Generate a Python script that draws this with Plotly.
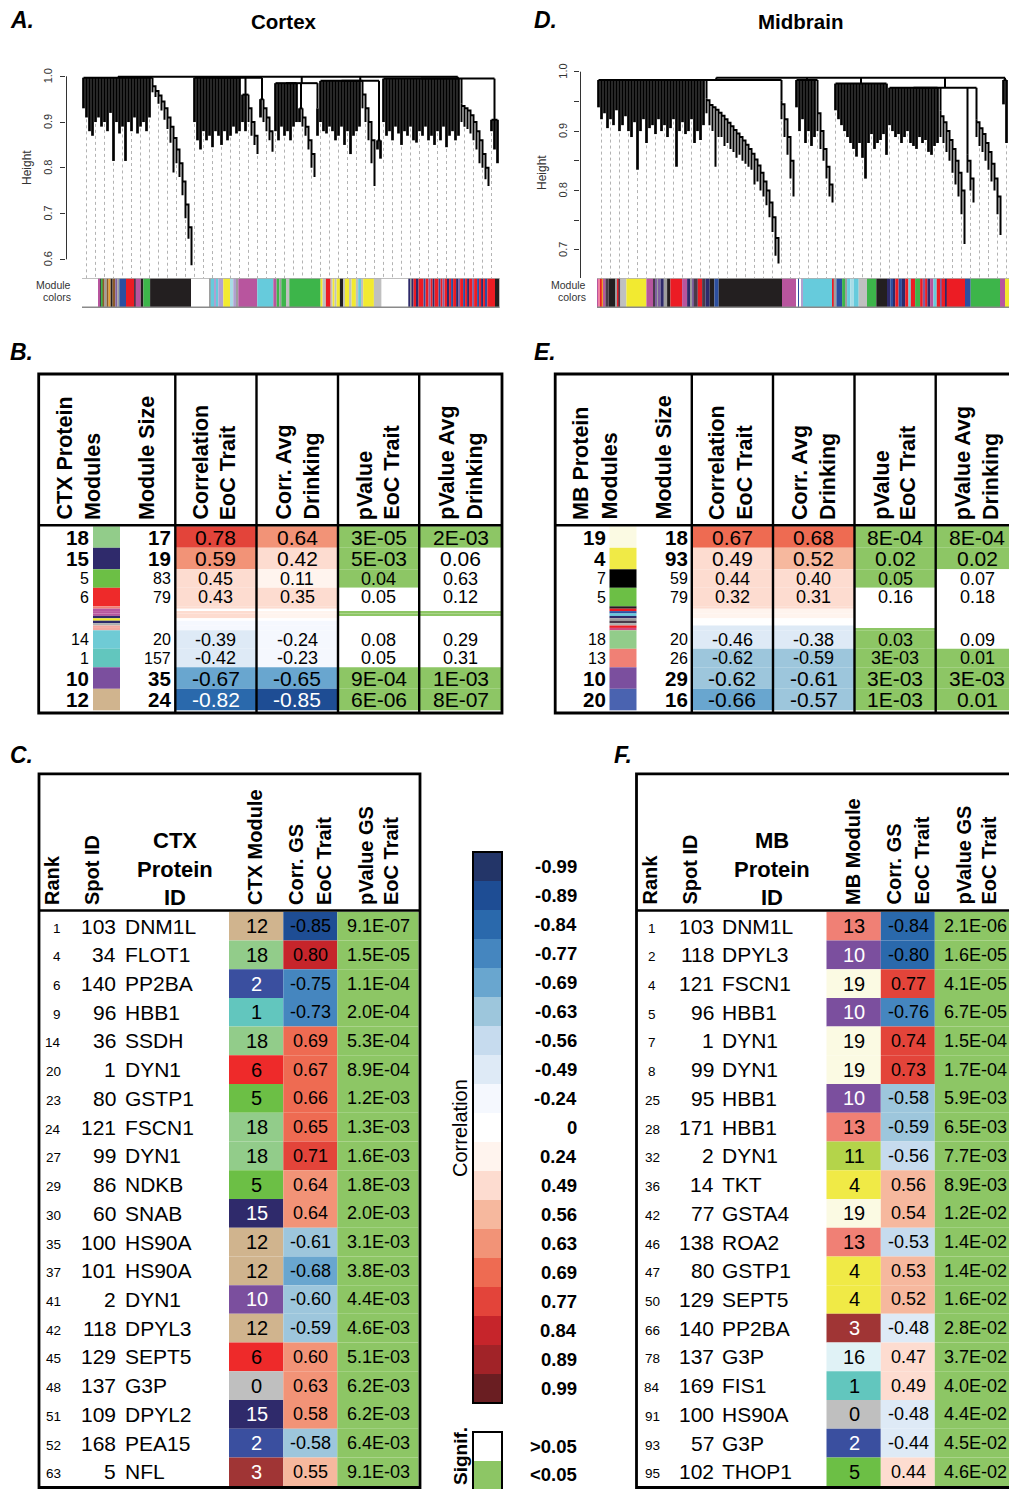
import plotly.graph_objects as go

W, H = 1009, 1489
FONT = "Liberation Sans, Arial, Helvetica, sans-serif"

# ======================= DATA =======================
# ---- correlation colour key ----
CORR_LEVELS = ["-0.99", "-0.89", "-0.84", "-0.77", "-0.69", "-0.63", "-0.56", "-0.49", "-0.24", "0",
               "0.24", "0.49", "0.56", "0.63", "0.69", "0.77", "0.84", "0.89", "0.99"]
CORR_LEVEL_COLORS = ["#233568", "#1e4d94", "#2a69ac", "#4586bf", "#69a6cf", "#9dc6dc", "#c6dbee", "#deeaf6",
                     "#f5f8fe", "#ffffff", "#fff4ee", "#fddcd0", "#f6b89e", "#f29377", "#ee6b52", "#e3443a",
                     "#c6252b", "#a12328", "#6a1e22"]
CORR_BIN_EDGES = [0.24, 0.49, 0.56, 0.645, 0.69, 0.785, 0.84, 0.89, 0.99]
SIGNIF_LEVELS = [">0.05", "<0.05"]
SIGNIF_COLORS = ["#ffffff", "#8dc665"]

# ---- module colours (WGCNA numbering) ----
MODULE_COLORS = {0: "#bfbfbf", 1: "#62c6be", 2: "#3a4f9f", 3: "#a03535", 4: "#f0ea46", 5: "#6cbf45",
                 6: "#ee2a2a", 7: "#000000", 10: "#7b4f9e", 11: "#b4d44a", 12: "#d0b48e", 13: "#f08075",
                 14: "#6fcbd5", 15: "#2f2a6b", 16: "#e0f2f6", 18: "#92cc8a", 19: "#fbfae3", 20: "#4a63b0"}
DARK_MODULES = [2, 3, 7, 10, 15, 20]

# ---- A / D dendrograms: (cluster merge height, [(segment merge height, leaf ends, chain (level, leaf end))]) ----
CTX_HEIGHT_TICKS = [0.6, 0.7, 0.8, 0.9, 1.0]
CTX_HEIGHT_LABELS = ["0.6", "0.7", "0.8", "0.9", "1.0"]
MB_HEIGHT_TICKS = [0.7, 0.75, 0.8, 0.85, 0.9, 0.95, 1.0]
MB_HEIGHT_LABELS = ["0.7", "", "0.8", "", "0.9", "", "1.0"]

CTX_TREE_TOP = 0.999
CTX_TREE = [
    (0.997, [(0.997,
              [0.93, 0.91, 0.88, 0.87, 0.90, 0.91, 0.89, 0.90, 0.88, 0.92, 0.815, 0.90, 0.875, 0.89, 0.815,
               0.90, 0.88, 0.91, 0.875, 0.89, 0.90, 0.88, 0.91],
              [(0.978, 0.965), (0.968, 0.955), (0.958, 0.94), (0.945, 0.925), (0.93, 0.905), (0.91, 0.885),
               (0.89, 0.855), (0.865, 0.79), (0.84, 0.81), (0.81, 0.78), (0.77, 0.74), (0.72, 0.69),
               (0.67, 0.645), (0.61, 0.587)])]),
    (0.997, [(0.997, [0.90, 0.86, 0.84, 0.88, 0.86, 0.87, 0.845, 0.88, 0.87, 0.85, 0.88, 0.86, 0.87, 0.89,
                      0.875, 0.88], []),
             (0.96, [0.90, 0.88], [(0.93, 0.90), (0.90, 0.87), (0.87, 0.85), (0.845, 0.83)]),
             (0.95, [0.91], [(0.93, 0.90), (0.91, 0.88), (0.88, 0.86), (0.855, 0.835)])]),
    (0.985, [(0.985, [0.88, 0.86, 0.89, 0.87, 0.88, 0.86, 0.89, 0.90], []),
             (0.93, [0.90], [(0.91, 0.89), (0.89, 0.87), (0.86, 0.84), (0.83, 0.80), (0.80, 0.78)]),
             (0.93, [0.87], [])]),
    (0.99, [(0.99, [0.90, 0.88, 0.875, 0.89, 0.88, 0.86, 0.87, 0.89, 0.85, 0.88, 0.83, 0.87, 0.88, 0.89],
             [(0.96, 0.93), (0.93, 0.90), (0.90, 0.86), (0.86, 0.81), (0.82, 0.76)]),
            (0.86, [0.84, 0.82], [])]),
    (0.995, [(0.995, [0.90, 0.87, 0.88, 0.86, 0.89, 0.875, 0.85, 0.88, 0.87, 0.89, 0.86, 0.855, 0.88, 0.87,
                      0.89, 0.86, 0.87, 0.85, 0.88, 0.86, 0.89, 0.845, 0.87, 0.88, 0.86, 0.87], []),
             (0.94, [], [(0.935, 0.90), (0.93, 0.89), (0.925, 0.885), (0.915, 0.875), (0.90, 0.86),
                         (0.88, 0.84), (0.86, 0.81), (0.83, 0.80), (0.80, 0.775), (0.775, 0.76)]),
             (0.905, [0.88, 0.84, 0.81], [])]),
]

MB_TREE_TOP = 0.99
MB_TREE = [
    (0.986, [(0.986, [0.94, 0.92, 0.93, 0.905, 0.92, 0.91, 0.935, 0.90, 0.91, 0.925, 0.90, 0.89, 0.915, 0.835,
                      0.90, 0.92, 0.88, 0.905, 0.91, 0.895, 0.92, 0.90, 0.91, 0.89, 0.905, 0.92, 0.84, 0.90,
                      0.915, 0.895, 0.90, 0.92, 0.88, 0.90, 0.885, 0.91], []),
             (0.955, [], [(0.952, 0.93), (0.944, 0.91), (0.94, 0.90), (0.936, 0.84), (0.931, 0.89),
                          (0.926, 0.89), (0.92, 0.875), (0.914, 0.88), (0.908, 0.87), (0.902, 0.865),
                          (0.896, 0.855), (0.89, 0.86), (0.884, 0.85), (0.877, 0.845), (0.87, 0.84),
                          (0.862, 0.835), (0.852, 0.81), (0.842, 0.815), (0.83, 0.80), (0.815, 0.79),
                          (0.80, 0.775), (0.78, 0.755), (0.755, 0.73), (0.72, 0.69), (0.69, 0.677)]),
             (0.952, [], [(0.945, 0.92), (0.92, 0.89), (0.89, 0.86), (0.85, 0.82), (0.815, 0.79)])]),
    (0.986, [(0.986, [0.94, 0.90, 0.92, 0.88, 0.90, 0.875, 0.89],
              [(0.93, 0.90), (0.90, 0.87), (0.87, 0.85), (0.84, 0.82), (0.81, 0.79), (0.79, 0.78)])]),
    (0.98, [(0.98, [0.935, 0.92, 0.91, 0.90, 0.89, 0.88, 0.87, 0.857, 0.88, 0.855, 0.82, 0.88, 0.895, 0.87,
                    0.88, 0.885, 0.895, 0.86], [])]),
    (0.973, [(0.973, [0.91, 0.90, 0.89, 0.895, 0.88, 0.89, 0.90, 0.88, 0.875, 0.87, 0.89, 0.88, 0.885, 0.865,
                      0.86, 0.875, 0.88], []),
             (0.935, [], [(0.925, 0.89), (0.915, 0.88), (0.90, 0.865), (0.885, 0.85), (0.87, 0.83),
                          (0.85, 0.81), (0.83, 0.79), (0.80, 0.76), (0.76, 0.71)]),
             (0.86, [], [(0.85, 0.83), (0.82, 0.80), (0.795, 0.78)]),
             (0.92, [], [(0.915, 0.89), (0.905, 0.875), (0.895, 0.865), (0.88, 0.85), (0.865, 0.835),
                         (0.845, 0.815), (0.82, 0.80), (0.79, 0.76), (0.75, 0.725)])]),
    (0.986, [(0.986, [0.945, 0.88], [])]),
]

# ---- module colour bars under the dendrograms: (colour, run length) ----
RUN_COLORS = {"w": "#ffffff", "k": "#231f20", "r": "#ec1c24", "b": "#2c4fa0", "g": "#3db54a", "y": "#f2ea30",
              "m": "#b8559e", "c": "#66cbdc", "s": "#c0c0c0", "gy": "#9e9e9e", "n": "#2e2a6a", "p": "#8060a0",
              "o": "#e8a030", "br": "#8b5a2b", "pk": "#f080a0", "li": "#b0a0d0", "lc": "#a8dce6",
              "dk": "#4a3a4a"}
CTX_COLOR_RUNS = [
    ("w", 16.3), ("m", 1.7), ("dk", 1.3), ("g", 1.3), ("br", 2), ("gy", 2), ("br", 2), ("o", 2), ("k", 2),
    ("br", 2.7), ("p", 2), ("gy", 2), ("b", 6.7), ("r", 8), ("dk", 1.7), ("m", 5), ("k", 2.7), ("g", 6.7),
    ("k", 41), ("w", 18.3), ("gy", 1.3), ("c", 3.3), ("li", 2), ("c", 2.3), ("li", 5), ("y", 6.7), ("lc", 3.3),
    ("li", 3.3), ("gy", 1.7), ("m", 19), ("c", 16), ("m", 3.3), ("g", 2.7), ("gy", 2), ("g", 4.7), ("s", 3.3),
    ("g", 31.3), ("y", 2), ("s", 3.3), ("r", 4.7), ("s", 2), ("y", 2), ("s", 2), ("y", 3.3), ("k", 3.3),
    ("s", 1.7), ("y", 5), ("s", 1.7), ("y", 4.3), ("s", 2.3), ("c", 3.3), ("s", 1.7), ("y", 10.7), ("s", 7.7),
    ("w", 26.7), ("n", 2), ("gy", 1.3), ("n", 2), ("r", 3.3), ("n", 1.7), ("r", 5), ("b", 2), ("r", 3),
    ("p", 2), ("r", 2), ("n", 2), ("r", 4), ("b", 2), ("r", 2), ("p", 2), ("r", 3), ("n", 1.5), ("r", 2),
    ("b", 2), ("r", 3), ("n", 2), ("p", 2), ("r", 3), ("b", 2), ("r", 2), ("n", 2), ("r", 3), ("p", 2),
    ("r", 3), ("b", 2), ("r", 2), ("n", 2), ("r", 2.5), ("b", 1.7), ("r", 7.7), ("k", 4.3)]
MB_COLOR_RUNS = [
    ("m", 1.7), ("pk", 1.7), ("r", 1.3), ("o", 2), ("m", 1.7), ("dk", 3.3), ("k", 6.7), ("gy", 1.7), ("r", 1.3),
    ("dk", 2), ("s", 6), ("y", 20), ("m", 7.3), ("dk", 1.7), ("p", 1.7), ("gy", 1.7), ("p", 1.7), ("n", 3.3),
    ("gy", 3.3), ("k", 3.3), ("r", 11.7), ("m", 5), ("n", 3.3), ("gy", 1.7), ("p", 1.7), ("dk", 4), ("r", 4.3),
    ("dk", 3.3), ("n", 4.3), ("k", 4.7), ("b", 4.3), ("k", 63.3), ("m", 14.3), ("w", 1.7), ("b", 1.3),
    ("w", 1.7), ("li", 2), ("c", 29), ("r", 1.7), ("gy", 2.7), ("b", 5.7), ("g", 3.3), ("gy", 1.7), ("c", 3.3),
    ("lc", 3.3), ("c", 5), ("s", 8.3), ("g", 9.3), ("k", 10.7), ("n", 3.3), ("b", 3.3), ("n", 1.7), ("r", 3.3),
    ("b", 3.3), ("n", 3.3), ("r", 3.3), ("c", 2.3), ("r", 4.3), ("g", 5), ("r", 2.7), ("p", 2.3), ("r", 2.3),
    ("n", 2.7), ("m", 3.3), ("c", 3.3), ("r", 3.3), ("p", 1.7), ("r", 3.3), ("n", 1.7), ("r", 18.3), ("b", 5.7),
    ("g", 29.3), ("m", 5), ("y", 5)]

# ---- B: cortex module / trait table ----
CTX_MOD_ID = [18, 15, 5, 6, 14, 1, 10, 12]
CTX_MOD_SIZE = [17, 19, 83, 79, 20, 157, 35, 24]
CTX_MOD_BOLD = [True, True, False, False, False, False, True, True]
CTX_MOD_CORR_EOC = [0.78, 0.59, 0.45, 0.43, -0.39, -0.42, -0.67, -0.82]
CTX_MOD_CORR_AVG = [0.64, 0.42, 0.11, 0.35, -0.24, -0.23, -0.65, -0.85]
CTX_MOD_P_EOC = [3e-5, 5e-3, 0.04, 0.052, 0.08, 0.051, 9e-4, 6e-6]
CTX_MOD_P_AVG = [2e-3, 0.06, 0.63, 0.12, 0.29, 0.31, 1e-3, 8e-7]
CTX_MINOR_COLORS = ["#f08075", "#b8559e", "#b8559e", "#b8559e", "#2e2a6a", "#f2ea30", "#2e2a6a", "#b0b0b0",
                    "#f4a8a0", "#f4a8a0"]
CTX_MINOR_CORR_EOC = [0.30, 0.0, 0.30, 0.30, 0.26, 0.0, -0.10, -0.10, -0.10, -0.10]
CTX_MINOR_CORR_AVG = [0.30, 0.0, 0.15, 0.15, 0.15, 0.0, -0.10, -0.10, -0.10, -0.10]
CTX_MINOR_P_EOC = [0.2, 0.5, 0.03, 0.03, 0.2, 0.5, 0.6, 0.7, 0.5, 0.4]
CTX_MINOR_P_AVG = [0.3, 0.6, 0.04, 0.04, 0.3, 0.7, 0.8, 0.6, 0.6, 0.5]

# ---- E: midbrain module / trait table ----
MB_MOD_ID = [19, 4, 7, 5, 18, 13, 10, 20]
MB_MOD_SIZE = [18, 93, 59, 79, 20, 26, 29, 16]
MB_MOD_BOLD = [True, True, False, False, False, False, True, True]
MB_MOD_CORR_EOC = [0.67, 0.49, 0.44, 0.32, -0.46, -0.62, -0.62, -0.66]
MB_MOD_CORR_AVG = [0.68, 0.52, 0.40, 0.31, -0.38, -0.59, -0.61, -0.57]
MB_MOD_P_EOC = [8e-4, 0.02, 0.0498, 0.16, 0.03, 3e-3, 3e-3, 1e-3]
MB_MOD_P_AVG = [8e-4, 0.02, 0.07, 0.18, 0.09, 0.011, 3e-3, 0.011]
MB_MINOR_COLORS = ["#231f20", "#ec1c24", "#2c4fa0", "#66cbdc", "#2e2a6a", "#9e9e9e", "#4a3a4a", "#b0b0b0",
                   "#ec1c24", "#d04a80"]
MB_MINOR_CORR_EOC = [0.30, 0.10, 0.10, 0.10, 0.10, 0.0, 0.0, 0.0, -0.30, -0.30]
MB_MINOR_CORR_AVG = [0.30, 0.10, 0.10, 0.10, 0.10, 0.0, 0.0, 0.0, -0.30, -0.30]
MB_MINOR_P_EOC = [0.3, 0.3, 0.3, 0.3, 0.3, 0.3, 0.3, 0.3, 0.3, 0.03]
MB_MINOR_P_AVG = [0.3, 0.3, 0.3, 0.3, 0.3, 0.3, 0.3, 0.3, 0.3, 0.3]

# ---- C: cortex gene significance ----
CTX_GS_RANK = [1, 4, 6, 9, 14, 20, 23, 24, 27, 29, 30, 35, 37, 41, 42, 45, 48, 51, 52, 63]
CTX_GS_SPOT = [103, 34, 140, 96, 36, 1, 80, 121, 99, 86, 60, 100, 101, 2, 118, 129, 137, 109, 168, 5]
CTX_GS_PROTEIN = ["DNM1L", "FLOT1", "PP2BA", "HBB1", "SSDH", "DYN1", "GSTP1", "FSCN1", "DYN1", "NDKB",
                  "SNAB", "HS90A", "HS90A", "DYN1", "DPYL3", "SEPT5", "G3P", "DPYL2", "PEA15", "NFL"]
CTX_GS_MODULE = [12, 18, 2, 1, 18, 6, 5, 18, 18, 5, 15, 12, 12, 10, 12, 6, 0, 15, 2, 3]
CTX_GS_CORR = [-0.85, 0.80, -0.75, -0.73, 0.69, 0.67, 0.66, 0.65, 0.71, 0.64, 0.64, -0.61, -0.68, -0.60,
               -0.59, 0.60, 0.63, 0.58, -0.58, 0.55]
CTX_GS_P = [9.1e-7, 1.5e-5, 1.1e-4, 2.0e-4, 5.3e-4, 8.9e-4, 1.2e-3, 1.3e-3, 1.6e-3, 1.8e-3, 2.0e-3, 3.1e-3,
            3.8e-3, 4.4e-3, 4.6e-3, 5.1e-3, 6.2e-3, 6.2e-3, 6.4e-3, 9.1e-3]

# ---- F: midbrain gene significance ----
MB_GS_RANK = [1, 2, 4, 5, 7, 8, 25, 28, 32, 36, 42, 46, 47, 50, 66, 78, 84, 91, 93, 95]
MB_GS_SPOT = [103, 118, 121, 96, 1, 99, 95, 171, 2, 14, 77, 138, 80, 129, 140, 137, 169, 100, 57, 102]
MB_GS_PROTEIN = ["DNM1L", "DPYL3", "FSCN1", "HBB1", "DYN1", "DYN1", "HBB1", "HBB1", "DYN1", "TKT", "GSTA4",
                 "ROA2", "GSTP1", "SEPT5", "PP2BA", "G3P", "FIS1", "HS90A", "G3P", "THOP1"]
MB_GS_MODULE = [13, 10, 19, 10, 19, 19, 10, 13, 11, 4, 19, 13, 4, 4, 3, 16, 1, 0, 2, 5]
MB_GS_CORR = [-0.84, -0.80, 0.77, -0.76, 0.74, 0.73, -0.58, -0.59, -0.56, 0.56, 0.54, -0.53, 0.53, 0.52,
              -0.48, 0.47, 0.49, -0.48, -0.44, 0.44]
MB_GS_P = [2.1e-6, 1.6e-5, 4.1e-5, 6.7e-5, 1.5e-4, 1.7e-4, 5.9e-3, 6.5e-3, 7.7e-3, 8.9e-3, 1.2e-2, 1.4e-2,
           1.4e-2, 1.6e-2, 2.8e-2, 3.7e-2, 4.0e-2, 4.4e-2, 4.5e-2, 4.6e-2]


# ======================= HELPERS =======================
def dom_x(a, b):
    return [a / W, b / W]


def dom_y(t, b):
    return [1 - b / H, 1 - t / H]


def corr_color(v):
    if v == 0:
        return CORR_LEVEL_COLORS[9]
    a = abs(v)
    j = len(CORR_BIN_EDGES) - 1
    for k, e in enumerate(CORR_BIN_EDGES):
        if a <= e + 1e-9:
            j = k
            break
    return CORR_LEVEL_COLORS[10 + j] if v > 0 else CORR_LEVEL_COLORS[8 - j]


def corr_dark(v):
    return abs(v) > 0.785


def sig_color(p):
    return SIGNIF_COLORS[1] if p < 0.05 else SIGNIF_COLORS[0]


def fmt_p_module(p):
    return f"{p:.0E}" if p < 0.01 else f"{p:.2f}"


def fmt_p_gene(p):
    return f"{p:.1E}"


ANN, SH = [], []


def txt(x, y, s, size, xa="center", ya="middle", angle=0, color="black", bold=False, italic=False,
        xref="x5", yref="y5"):
    if bold:
        s = "<b>" + s + "</b>"
    if italic:
        s = "<i>" + s + "</i>"
    ANN.append(dict(x=x, y=y, xref=xref, yref=yref, text=s, showarrow=False, xanchor=xa, yanchor=ya,
                    textangle=angle, borderpad=0, font=dict(family=FONT, size=size, color=color)))


def rect(x0, y0, x1, y1, fill=None, lw=0, lc="black"):
    SH.append(dict(type="rect", xref="x5", yref="y5", x0=x0, y0=y0, x1=x1, y1=y1,
                   fillcolor=fill if fill else "rgba(0,0,0,0)", line=dict(width=lw, color=lc), layer="above"))


def hline(x0, x1, y, lw, lc="black"):
    SH.append(dict(type="line", xref="x5", yref="y5", x0=x0, x1=x1, y0=y, y1=y, line=dict(width=lw, color=lc),
                   layer="above"))


def vline(x, y0, y1, lw, lc="black"):
    SH.append(dict(type="line", xref="x5", yref="y5", x0=x, x1=x, y0=y0, y1=y1, line=dict(width=lw, color=lc),
                   layer="above"))


fig = go.Figure()

# ======================= A / D dendrograms =======================
LEAF = 3.0
CTX_YMIN, CTX_YMAX = 0.55913, 1.01377
MB_YMIN, MB_YMAX = 0.65269, 1.0096


def add_dendro(tree, top, xa, ya, ymin):
    lx, ly, gx, gy, tx, ty = [], [], [], [], [], []
    idx = 0
    ccon = []
    for ctop, segs in tree:
        scon = []
        for stop, dense, chain in segs:
            xs = []
            for b in dense:
                x = idx * LEAF + LEAF / 2
                if idx % 3 == 1:
                    gx += [x, x, None]; gy += [b - 0.004, ymin, None]
                idx += 1
                lx += [x, x, None]; ly += [b, stop, None]
                xs.append(x)
            prev = None
            for lev, b in chain:
                x = idx * LEAF + LEAF / 2
                if idx % 3 == 1:
                    gx += [x, x, None]; gy += [b - 0.004, ymin, None]
                idx += 1
                if prev is None:
                    tx += [x, x, None]; ty += [stop, b, None]
                    xs.append(x)
                else:
                    tx += [prev[0], x, x, None]; ty += [prev[1], prev[1], b, None]
                prev = (x, lev)
            x0, x1 = min(xs), max(xs)
            if x1 > x0:
                tx += [x0, x1, None]; ty += [stop, stop, None]
            scon.append(((x0 + x1) / 2, stop))
        cx0, cx1 = scon[0][0], scon[-1][0]
        for sx, st in scon:
            if st < ctop:
                tx += [sx, sx, None]; ty += [st, ctop, None]
        if cx1 > cx0:
            tx += [cx0, cx1, None]; ty += [ctop, ctop, None]
        ccon.append(((cx0 + cx1) / 2, ctop))
    for cx, ct in ccon:
        tx += [cx, cx, None]; ty += [ct, top, None]
    tx += [ccon[0][0], ccon[-1][0], None]; ty += [top, top, None]
    fig.add_trace(go.Scatter(x=gx, y=gy, mode="lines", line=dict(color="#a0a0a0", width=0.8, dash="dot"),
                             xaxis=xa, yaxis=ya, hoverinfo="skip"))
    fig.add_trace(go.Scatter(x=lx, y=ly, mode="lines", line=dict(color="black", width=2.7),
                             xaxis=xa, yaxis=ya, hoverinfo="skip"))
    fig.add_trace(go.Scatter(x=tx, y=ty, mode="lines", line=dict(color="black", width=2.0),
                             xaxis=xa, yaxis=ya, hoverinfo="skip"))


def add_band(runs, xa, ya, total):
    xs, ws, cs = [], [], []
    pos = 0.0
    for key, w in runs:
        xs.append(pos + w / 2); ws.append(w); cs.append(RUN_COLORS[key])
        pos += w
    fig.add_trace(go.Bar(x=xs, y=[1] * len(xs), width=ws, base=0, marker=dict(color=cs, line=dict(width=0)),
                         xaxis=xa, yaxis=ya, hoverinfo="skip"))
    fig.add_trace(go.Scatter(x=[0, total], y=[0.02, 0.02], mode="lines", line=dict(color="#8a8a8a", width=2),
                             xaxis=xa, yaxis=ya, hoverinfo="skip"))
    fig.add_trace(go.Scatter(x=[0, total], y=[0.99, 0.99], mode="lines", line=dict(color="#b0b0b0", width=1),
                             xaxis=xa, yaxis=ya, hoverinfo="skip"))


add_dendro(CTX_TREE, CTX_TREE_TOP, "x", "y", CTX_YMIN)
add_dendro(MB_TREE, MB_TREE_TOP, "x2", "y2", MB_YMIN)
add_band(CTX_COLOR_RUNS, "x", "y3", sum(w for _, w in CTX_COLOR_RUNS))
add_band(MB_COLOR_RUNS, "x2", "y4", 412)

# axis lines of the height axes
fig.add_trace(go.Scatter(x=[-15.5, -15.5], y=[min(CTX_HEIGHT_TICKS), max(CTX_HEIGHT_TICKS)], mode="lines",
                         line=dict(color="#333", width=1), xaxis="x", yaxis="y", hoverinfo="skip"))
fig.add_trace(go.Scatter(x=[-16.5, -16.5], y=[MB_YMIN, max(MB_HEIGHT_TICKS)], mode="lines",
                         line=dict(color="#333", width=1), xaxis="x2", yaxis="y2", hoverinfo="skip"))

for v, s in zip(CTX_HEIGHT_TICKS, CTX_HEIGHT_LABELS):
    txt(48, v, s, 11, angle=-90, color="#333", yref="y")
for v, s in zip(MB_HEIGHT_TICKS, MB_HEIGHT_LABELS):
    if s:
        txt(563, v, s, 11, angle=-90, color="#333", yref="y2")
txt(27, 168, "Height", 12, angle=-90, color="#333")
txt(542, 173, "Height", 12, angle=-90, color="#333")
txt(72, 285, "Module", 10.5, xa="right", color="#333")
txt(72, 297, "colors", 10.5, xa="right", color="#333")
txt(587, 285, "Module", 10.5, xa="right", color="#333")
txt(587, 297, "colors", 10.5, xa="right", color="#333")

# panel letters / titles
for lx_, ly_, s in [(9, 20, "A."), (9, 352, "B."), (9, 755, "C."), (533, 20, "D."), (533, 352, "E."),
                    (613, 755, "F.")]:
    txt(lx_, ly_, s, 23, xa="left", bold=True, italic=True)
txt(284, 21, "Cortex", 20.5, bold=True)
txt(800, 21, "Midbrain", 20.5, bold=True)


# ======================= B / E module tables =======================
def module_table(x0, head, ids, sizes, bold, ceoc, cavg, peoc, pavg, mcols, mceoc, mcavg, mpeoc, mpavg):
    cols = [c + x0 for c in [175.3, 256.5, 338, 419.2, 502]]
    left, right, top, hbot, bot = 38.7 + x0, 502 + x0, 374, 525.3, 713
    split = next(i for i, v in enumerate(ceoc) if v < 0)
    y = 526.3
    items = []
    for i in range(len(ids)):
        if i == split:
            sh = 24.0 / len(mcols)
            for j in range(len(mcols)):
                items.append(("minor", j, y, y + sh))
                y += sh
        h = 21.5 if bold[i] else 18.5
        items.append(("main", i, y, y + h))
        y += h
    for kind, i, ya, yb in items:
        if kind == "main":
            vals = [ceoc[i], cavg[i]]; ps = [peoc[i], pavg[i]]; sw = MODULE_COLORS[ids[i]]
        else:
            vals = [mceoc[i], mcavg[i]]; ps = [mpeoc[i], mpavg[i]]; sw = mcols[i]
        rect(93 + x0, ya, 120 + x0, yb, fill=sw)
        for k in range(2):
            rect(cols[k], ya, cols[k + 1], yb, fill=corr_color(vals[k]))
            rect(cols[k + 2], ya, cols[k + 3], yb, fill=sig_color(ps[k]))
        if kind == "main":
            yc = (ya + yb) / 2
            fs = 20.5 if bold[i] else 16
            vs = 21 if bold[i] else 18
            txt(90 + x0, yc, str(ids[i]), fs, xa="right", bold=bold[i])
            txt(172 + x0, yc, str(sizes[i]), fs, xa="right", bold=bold[i])
            for k in range(2):
                txt((cols[k] + cols[k + 1]) / 2, yc, f"{vals[k]:.2f}", vs,
                    color="white" if corr_dark(vals[k]) else "black")
                txt((cols[k + 2] + cols[k + 3]) / 2, yc, fmt_p_module(ps[k]), vs)
    # grid
    for c in cols[:-1]:
        vline(c, top, bot, 2.4)
    hline(left, right, hbot, 2.5)
    rect(left, top, right, bot, lw=2.8)
    # header
    hx = [(64, head[0]), (92.5, "Modules"), (147, "Module Size"), (200, "Correlation"), (228.3, "EoC Trait"),
          (283, "Corr. Avg"), (311, "Drinking"), (364.7, "pValue"), (391.7, "EoC Trait"),
          (446.7, "pValue Avg"), (474, "Drinking")]
    for hxx, s in hx:
        txt(hxx + x0, 521, s, 21.5, ya="bottom", angle=-90, bold=True)


module_table(0, ["CTX Protein"], CTX_MOD_ID, CTX_MOD_SIZE, CTX_MOD_BOLD, CTX_MOD_CORR_EOC, CTX_MOD_CORR_AVG,
             CTX_MOD_P_EOC, CTX_MOD_P_AVG, CTX_MINOR_COLORS, CTX_MINOR_CORR_EOC, CTX_MINOR_CORR_AVG,
             CTX_MINOR_P_EOC, CTX_MINOR_P_AVG)
module_table(516.5, ["MB Protein"], MB_MOD_ID, MB_MOD_SIZE, MB_MOD_BOLD, MB_MOD_CORR_EOC, MB_MOD_CORR_AVG,
             MB_MOD_P_EOC, MB_MOD_P_AVG, MB_MINOR_COLORS, MB_MINOR_CORR_EOC, MB_MINOR_CORR_AVG,
             MB_MINOR_P_EOC, MB_MINOR_P_AVG)


# ======================= C / F gene tables =======================
def gene_table(x0, region, ranks, spots, prots, mods, corr, pvals, rank_right):
    left, right, top, hbot, bot = 39 + x0, 420 + x0, 773.8, 910.5, 1487.5
    rt, rh = 911.7, (1486.2 - 911.7) / len(ranks)
    cm, cc, cp = (229 + x0, 283.3 + x0), (283.3 + x0, 337.3 + x0), (337.3 + x0, 418.5 + x0)
    for i in range(len(ranks)):
        ya, yb = rt + i * rh, rt + (i + 1) * rh
        yc = (ya + yb) / 2
        rect(cm[0], ya, cm[1], yb, fill=MODULE_COLORS[mods[i]])
        rect(cc[0], ya, cc[1], yb, fill=corr_color(corr[i]))
        rect(cp[0], ya, cp[1], yb, fill=sig_color(pvals[i]))
        if rank_right:
            txt(62 + x0, yc + 2, str(ranks[i]), 13.5, xa="right")
        else:
            txt(54.5 + x0, yc + 2, str(ranks[i]), 13.5)
        txt(117 + x0, yc, str(spots[i]), 21, xa="right")
        txt(123.5 + x0, yc, prots[i], 21, xa="left")
        txt(256.5 + x0, yc, str(mods[i]), 20, color="white" if mods[i] in DARK_MODULES else "black")
        txt(310.5 + x0, yc, f"{corr[i]:.2f}", 18)
        txt(378.3 + x0, yc, fmt_p_gene(pvals[i]), 18)
    hline(left, right, hbot, 2.5)
    rect(left, top, right, bot, lw=2.8)
    for hxx, s in [(52, "Rank"), (92, "Spot ID"), (255, region + " Module"), (295.5, "Corr. GS"),
                   (324, "EoC Trait"), (365.5, "pValue GS"), (391, "EoC Trait")]:
        txt(hxx + x0, 906, s, 20, ya="bottom", angle=-90, bold=True)
    for yy, s in [(840, region), (869, "Protein"), (897, "ID")]:
        txt(174.5 + x0, yy, s, 22, bold=True)


gene_table(0, "CTX", CTX_GS_RANK, CTX_GS_SPOT, CTX_GS_PROTEIN, CTX_GS_MODULE, CTX_GS_CORR, CTX_GS_P, True)
gene_table(597.5, "MB", MB_GS_RANK, MB_GS_SPOT, MB_GS_PROTEIN, MB_GS_MODULE, MB_GS_CORR, MB_GS_P, False)

# ======================= colour key =======================
n = len(CORR_LEVELS)
cs = []
for i, c in enumerate(CORR_LEVEL_COLORS):
    cs += [[i / n, c], [(i + 1) / n, c]]
fig.add_trace(go.Heatmap(z=[[i] for i in range(n)], x=[0], y=list(range(n)), colorscale=cs, zmin=-0.5,
                         zmax=n - 0.5, showscale=False, xaxis="x6", yaxis="y6", hoverinfo="skip"))
cs2 = [[0, SIGNIF_COLORS[0]], [0.5, SIGNIF_COLORS[0]], [0.5, SIGNIF_COLORS[1]], [1, SIGNIF_COLORS[1]]]
fig.add_trace(go.Heatmap(z=[[0], [1]], x=[0], y=[0, 1], colorscale=cs2, zmin=-0.5, zmax=1.5, showscale=False,
                         xaxis="x7", yaxis="y7", hoverinfo="skip"))
rect(473, 852, 502, 1403, lw=2)
rect(473, 1432, 502, 1491, lw=2)
for i, s in enumerate(CORR_LEVELS):
    txt(578, i, s, 18.5, xa="right", bold=True, yref="y6")
for i, s in enumerate(SIGNIF_LEVELS):
    txt(578, i, s, 18.5, xa="right", bold=True, yref="y7")
txt(460, 1128, "Correlation", 20, angle=-90)
txt(460, 1456, "Signif.", 19, angle=-90, bold=True)

# dummy trace for the page axes
fig.add_trace(go.Scatter(x=[0], y=[0], mode="markers", marker=dict(opacity=0), xaxis="x5", yaxis="y5",
                         hoverinfo="skip"))

hid = dict(visible=False, fixedrange=True)
fig.update_layout(
    width=W, height=H, margin=dict(l=0, r=0, t=0, b=0), showlegend=False,
    paper_bgcolor="white", plot_bgcolor="rgba(0,0,0,0)",
    xaxis=dict(domain=dom_x(66, 502), range=[-16, 420], anchor="y", **hid),
    yaxis=dict(domain=dom_y(70, 278), range=[CTX_YMIN, CTX_YMAX], anchor="x", showgrid=False, zeroline=False,
               showline=False, showticklabels=False, ticks="outside", ticklen=5, tickwidth=1, tickcolor="#333",
               tickvals=CTX_HEIGHT_TICKS, fixedrange=True),
    xaxis2=dict(domain=dom_x(580, 1009), range=[-17, 412], anchor="y2", **hid),
    yaxis2=dict(domain=dom_y(66, 278), range=[MB_YMIN, MB_YMAX], anchor="x2", showgrid=False, zeroline=False,
                showline=False, showticklabels=False, ticks="outside", ticklen=5, tickwidth=1, tickcolor="#333",
                tickvals=MB_HEIGHT_TICKS, fixedrange=True),
    yaxis3=dict(domain=dom_y(278, 308), range=[0, 1], anchor="x", **hid),
    yaxis4=dict(domain=dom_y(278, 308), range=[0, 1], anchor="x2", **hid),
    xaxis5=dict(domain=[0, 1], range=[0, W], anchor="y5", **hid),
    yaxis5=dict(domain=[0, 1], range=[H, 0], anchor="x5", **hid),
    xaxis6=dict(domain=dom_x(473, 502), range=[-0.5, 0.5], anchor="y6", **hid),
    yaxis6=dict(domain=dom_y(852, 1403), range=[n - 0.5, -0.5], anchor="x6", **hid),
    xaxis7=dict(domain=dom_x(473, 502), range=[-0.5, 0.5], anchor="y7", **hid),
    yaxis7=dict(domain=dom_y(1432, 1489), range=[1.5, -0.5], anchor="x7", **hid),
    annotations=ANN, shapes=SH,
)

fig.write_html("out.html", config={"displayModeBar": False},
               post_script="document.body.style.margin='0';document.body.style.padding='0';")
